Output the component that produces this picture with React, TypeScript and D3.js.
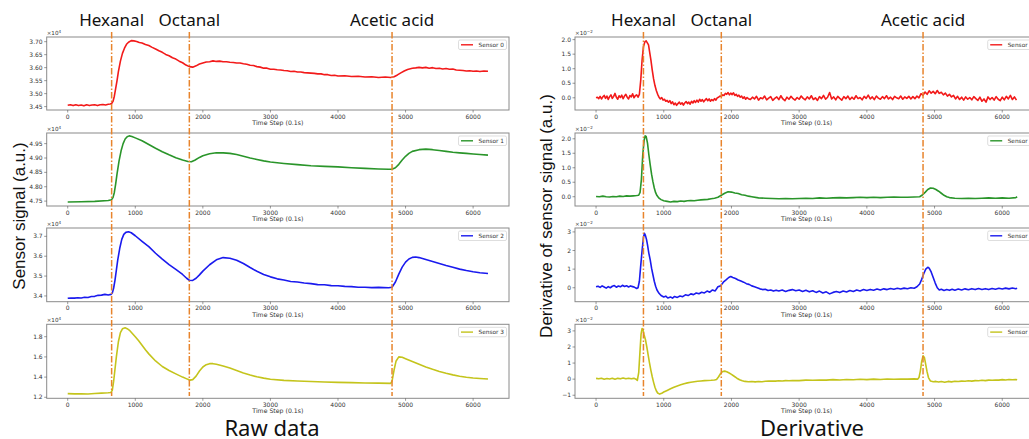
import React from "react";
import * as d3 from "d3";

// ---------- DATA ----------
const xTicks = [0, 1000, 2000, 3000, 4000, 5000, 6000];
const eventNames = ["Hexanal", "Octanal", "Acetic acid"];
const rawEventTimes = [650, 1800, 4800];
const derivEventTimes = [700, 1850, 4830];
const sensorNames = ["Sensor 0", "Sensor 1", "Sensor 2", "Sensor 3"];

// raw sensor signal (x10^4)
const raw0: [number, number][] = [[0,3.455],[40,3.457],[80,3.454],[120,3.457],[160,3.454],[200,3.456],[240,3.453],[280,3.457],[320,3.454],[360,3.456],[400,3.457],[440,3.454],[480,3.457],[520,3.458],[560,3.456],[600,3.459],[630,3.46],[650,3.462],[670,3.47],[690,3.49],[710,3.52],[730,3.55],[750,3.585],[780,3.625],[810,3.655],[840,3.675],[870,3.69],[900,3.698],[940,3.704],[980,3.703],[1020,3.701],[1060,3.697],[1100,3.695],[1150,3.689],[1200,3.685],[1250,3.678],[1300,3.672],[1350,3.665],[1400,3.659],[1450,3.651],[1500,3.646],[1550,3.638],[1600,3.633],[1650,3.625],[1700,3.619],[1750,3.61],[1800,3.604],[1850,3.602],[1900,3.607],[1950,3.614],[2000,3.618],[2050,3.622],[2100,3.623],[2150,3.626],[2200,3.624],[2250,3.625],[2300,3.623],[2350,3.623],[2400,3.621],[2450,3.62],[2500,3.618],[2550,3.618],[2600,3.615],[2650,3.613],[2700,3.609],[2750,3.608],[2800,3.604],[2850,3.602],[2900,3.598],[2950,3.598],[3000,3.594],[3050,3.594],[3100,3.592],[3150,3.591],[3200,3.589],[3250,3.588],[3300,3.585],[3350,3.586],[3400,3.583],[3450,3.583],[3500,3.581],[3550,3.58],[3600,3.579],[3650,3.578],[3700,3.576],[3750,3.576],[3800,3.573],[3850,3.573],[3900,3.57],[3950,3.571],[4000,3.568],[4100,3.569],[4200,3.566],[4300,3.567],[4400,3.564],[4500,3.565],[4600,3.562],[4700,3.564],[4780,3.562],[4830,3.565],[4880,3.572],[4930,3.58],[4980,3.587],[5030,3.593],[5100,3.598],[5150,3.599],[5200,3.601],[5250,3.599],[5300,3.601],[5350,3.598],[5400,3.6],[5450,3.597],[5500,3.598],[5550,3.595],[5600,3.597],[5650,3.594],[5700,3.595],[5750,3.591],[5800,3.59],[5850,3.589],[5900,3.587],[5950,3.588],[6000,3.586],[6050,3.587],[6100,3.585],[6160,3.587],[6220,3.586]];
const raw1: [number, number][] = [[0,4.747],[200,4.748],[400,4.749],[600,4.752],[650,4.755],[670,4.762],[690,4.78],[710,4.81],[730,4.845],[760,4.89],[790,4.925],[820,4.95],[850,4.966],[880,4.974],[910,4.977],[950,4.975],[1000,4.97],[1100,4.96],[1200,4.947],[1300,4.934],[1400,4.922],[1500,4.911],[1600,4.901],[1700,4.893],[1780,4.888],[1830,4.887],[1880,4.892],[1950,4.902],[2000,4.908],[2100,4.915],[2200,4.918],[2300,4.918],[2400,4.916],[2500,4.912],[2600,4.906],[2700,4.9],[2800,4.895],[2900,4.89],[3000,4.886],[3200,4.881],[3400,4.877],[3600,4.873],[3800,4.871],[4000,4.869],[4200,4.866],[4400,4.864],[4600,4.862],[4750,4.861],[4800,4.861],[4850,4.866],[4900,4.878],[4950,4.893],[5000,4.906],[5050,4.916],[5100,4.923],[5200,4.929],[5300,4.931],[5400,4.929],[5500,4.926],[5600,4.923],[5700,4.92],[5800,4.918],[5900,4.916],[6000,4.914],[6100,4.912],[6220,4.91]];
const raw2: [number, number][] = [[0,3.388],[50,3.39],[100,3.389],[150,3.391],[200,3.39],[250,3.393],[300,3.392],[350,3.397],[400,3.398],[450,3.403],[500,3.404],[550,3.408],[600,3.405],[640,3.408],[660,3.415],[680,3.44],[700,3.48],[720,3.53],[740,3.58],[770,3.64],[800,3.685],[830,3.71],[860,3.72],[900,3.723],[940,3.718],[1000,3.703],[1100,3.675],[1200,3.648],[1300,3.615],[1400,3.585],[1500,3.558],[1600,3.534],[1700,3.508],[1760,3.489],[1800,3.479],[1850,3.478],[1900,3.489],[1950,3.506],[2000,3.525],[2100,3.557],[2200,3.582],[2300,3.593],[2400,3.59],[2500,3.58],[2600,3.563],[2700,3.543],[2800,3.524],[2900,3.508],[3000,3.496],[3100,3.486],[3200,3.48],[3300,3.473],[3400,3.47],[3500,3.465],[3600,3.462],[3700,3.457],[3800,3.456],[3900,3.452],[4000,3.451],[4100,3.448],[4200,3.447],[4300,3.444],[4400,3.444],[4500,3.442],[4600,3.443],[4750,3.441],[4800,3.444],[4850,3.47],[4900,3.51],[4950,3.545],[5000,3.57],[5050,3.586],[5100,3.594],[5150,3.596],[5200,3.593],[5300,3.583],[5400,3.573],[5500,3.563],[5600,3.553],[5700,3.544],[5800,3.535],[5900,3.528],[6000,3.522],[6100,3.517],[6220,3.513]];
const raw3: [number, number][] = [[0,1.236],[100,1.234],[200,1.235],[300,1.233],[400,1.237],[500,1.241],[600,1.245],[640,1.248],[660,1.27],[680,1.36],[700,1.48],[720,1.6],[750,1.75],[780,1.84],[810,1.878],[850,1.888],[880,1.88],[920,1.86],[960,1.83],[1000,1.8],[1050,1.76],[1100,1.715],[1150,1.67],[1200,1.63],[1300,1.56],[1400,1.505],[1500,1.465],[1600,1.432],[1700,1.4],[1770,1.38],[1810,1.37],[1850,1.375],[1900,1.41],[1950,1.46],[2000,1.5],[2050,1.523],[2100,1.533],[2150,1.533],[2200,1.527],[2300,1.51],[2400,1.49],[2500,1.465],[2600,1.44],[2700,1.42],[2800,1.403],[2900,1.39],[3000,1.379],[3200,1.368],[3400,1.361],[3600,1.356],[3800,1.352],[4000,1.348],[4200,1.345],[4400,1.342],[4600,1.34],[4780,1.338],[4800,1.36],[4830,1.47],[4860,1.56],[4900,1.6],[4950,1.596],[5000,1.582],[5100,1.555],[5200,1.527],[5300,1.5],[5400,1.477],[5500,1.456],[5600,1.438],[5700,1.422],[5800,1.408],[5900,1.398],[6000,1.391],[6100,1.386],[6220,1.381]];

// derivative of sensor signal (x10^-2)
const deriv0Head: [number, number][] = [[0,0.0],[20,0.02],[40,-0.03],[60,0.05],[80,-0.04],[100,0.03],[120,0.08],[140,-0.02],[160,0.06],[180,-0.06],[200,0.04],[220,0.1],[240,-0.02],[260,0.05],[280,0.15],[300,0.02],[320,-0.05],[340,0.07],[360,0.01],[380,0.09],[400,-0.03],[420,0.06],[440,0.12],[460,0.02],[480,-0.04],[500,0.08],[520,0.03],[540,0.14],[560,0.0],[580,0.07],[600,0.1],[620,0.02],[640,0.12],[660,0.6],[680,1.3],[700,1.75],[720,1.92],[740,1.96],[760,1.88],[775,1.82],[790,1.6],[810,1.3],[830,0.95],[850,0.65],[870,0.42],[890,0.25],[910,0.12],[930,0.02],[950,-0.04],[970,0.01],[990,-0.08],[1010,-0.05],[1030,-0.12],[1050,-0.09],[1070,-0.15],[1090,-0.1],[1110,-0.2],[1130,-0.14],[1150,-0.24],[1170,-0.18],[1190,-0.26],[1210,-0.2],[1230,-0.15],[1250,-0.22],[1270,-0.17],[1290,-0.25],[1310,-0.18],[1330,-0.13],[1350,-0.2],[1370,-0.15],[1390,-0.22],[1410,-0.12],[1430,-0.18],[1450,-0.1],[1470,-0.16],[1490,-0.08],[1510,-0.15],[1530,-0.05],[1550,-0.12],[1570,-0.06],[1590,-0.14],[1610,-0.08],[1630,-0.03],[1650,-0.1],[1670,-0.04],[1690,-0.12],[1710,-0.06],[1730,-0.1],[1750,-0.03],[1770,-0.08],[1790,0.0],[1810,0.02],[1830,0.06],[1850,0.04],[1870,0.1],[1890,0.08],[1910,0.15],[1930,0.12],[1950,0.18],[1970,0.1],[1990,0.16],[2010,0.11],[2030,0.17],[2050,0.08],[2070,0.12],[2090,0.05],[2110,0.09],[2130,0.02],[2150,0.06],[2170,-0.02],[2190,0.03],[2210,-0.05],[2230,0.01],[2250,-0.03]];
const deriv0TailStart = 2280;
const deriv0TailStep = 30;
const deriv0TailValues = [-0.06,0.02,-0.04,0.05,-0.08,0.0,-0.03,0.06,-0.07,-0.01,0.04,-0.09,-0.02,0.03,-0.06,0.07,-0.04,-0.1,0.02,-0.05,0.05,-0.03,-0.08,0.01,-0.05,0.06,-0.02,-0.07,0.03,-0.04,0.07,-0.06,0.0,-0.09,0.04,-0.03,0.08,-0.05,0.02,0.18,-0.04,0.03,-0.07,0.05,-0.02,-0.08,0.04,-0.03,0.06,-0.06,0.02,-0.05,0.07,-0.03,0.01,-0.07,0.05,-0.02,0.09,-0.04,0.03,-0.06,0.06,-0.01,-0.05,0.04,-0.03,0.07,-0.04,0.02,-0.06,0.05,0.0,-0.03,0.06,-0.05,0.03,-0.02,0.05,-0.04,0.04,-0.03,0.06,0.0,0.14,0.08,0.2,0.12,0.24,0.16,0.22,0.14,0.25,0.15,0.19,0.1,0.16,0.06,0.12,0.03,0.08,-0.04,0.05,-0.06,0.02,-0.08,0.03,-0.05,0.01,-0.07,0.04,-0.03,-0.09,0.02,-0.12,-0.04,-0.15,0.03,-0.06,0.01,-0.08,0.04,-0.05,-0.1,0.02,-0.07,0.05,-0.04,0.08,-0.06,0.03,-0.08];
const deriv1: [number, number][] = [[0,0.01],[50,0.0],[100,0.02],[150,0.0],[200,-0.01],[250,0.01],[300,0.0],[350,0.02],[400,0.01],[450,0.03],[500,0.02],[550,0.03],[600,0.04],[630,0.05],[650,0.15],[670,0.6],[690,1.45],[710,1.95],[725,2.1],[740,2.08],[760,1.85],[780,1.45],[800,1.1],[820,0.78],[840,0.52],[860,0.3],[880,0.14],[900,0.04],[930,-0.05],[960,-0.1],[1000,-0.14],[1050,-0.16],[1100,-0.18],[1150,-0.16],[1200,-0.17],[1250,-0.15],[1300,-0.16],[1350,-0.14],[1400,-0.13],[1450,-0.14],[1500,-0.12],[1550,-0.11],[1600,-0.1],[1650,-0.09],[1700,-0.07],[1750,-0.05],[1800,-0.02],[1850,0.05],[1900,0.12],[1950,0.17],[2000,0.16],[2050,0.13],[2100,0.11],[2150,0.07],[2200,0.05],[2250,0.02],[2300,0.0],[2400,-0.04],[2500,-0.05],[2600,-0.06],[2700,-0.07],[2800,-0.06],[2900,-0.07],[3000,-0.06],[3100,-0.05],[3200,-0.06],[3300,-0.04],[3400,-0.05],[3500,-0.04],[3600,-0.03],[3700,-0.04],[3800,-0.03],[3900,-0.02],[4000,-0.03],[4100,-0.02],[4200,-0.03],[4300,-0.02],[4400,-0.01],[4500,-0.02],[4600,-0.02],[4700,-0.01],[4780,0.0],[4820,0.06],[4860,0.15],[4900,0.25],[4940,0.3],[4980,0.29],[5020,0.25],[5060,0.19],[5100,0.12],[5140,0.05],[5180,0.0],[5220,-0.03],[5300,-0.05],[5400,-0.06],[5500,-0.05],[5600,-0.06],[5700,-0.05],[5800,-0.04],[5900,-0.05],[6000,-0.04],[6100,-0.05],[6200,-0.03],[6220,0.0]];
const deriv2: [number, number][] = [[0,0.05],[30,0.08],[60,0.02],[90,0.1],[120,0.04],[150,-0.02],[180,0.06],[210,0.0],[240,0.08],[270,0.12],[300,0.03],[330,0.09],[360,0.05],[390,0.13],[420,0.07],[450,0.11],[480,0.04],[510,0.1],[540,0.06],[570,0.02],[600,-0.04],[620,0.0],[640,0.35],[660,1.2],[680,2.0],[700,2.7],[715,2.92],[730,2.8],[745,2.6],[760,2.3],[780,1.85],[800,1.5],[820,1.05],[840,0.7],[860,0.35],[880,0.08],[900,-0.12],[930,-0.3],[960,-0.42],[1000,-0.5],[1030,-0.45],[1060,-0.55],[1100,-0.5],[1130,-0.56],[1160,-0.47],[1200,-0.52],[1240,-0.44],[1280,-0.48],[1320,-0.38],[1360,-0.42],[1400,-0.33],[1440,-0.37],[1480,-0.28],[1520,-0.32],[1560,-0.24],[1600,-0.28],[1640,-0.18],[1680,-0.24],[1720,-0.12],[1760,-0.17],[1800,0.05],[1840,0.1],[1880,0.3],[1920,0.42],[1960,0.55],[1990,0.6],[2020,0.55],[2060,0.5],[2100,0.42],[2140,0.36],[2180,0.3],[2220,0.22],[2260,0.18],[2300,0.1],[2340,0.05],[2380,0.0],[2420,-0.06],[2460,-0.1],[2500,-0.08],[2540,-0.15],[2580,-0.12],[2620,-0.18],[2660,-0.13],[2700,-0.17],[2750,-0.12],[2800,-0.2],[2850,-0.14],[2900,-0.1],[2950,-0.16],[3000,-0.12],[3050,-0.2],[3100,-0.14],[3150,-0.22],[3200,-0.16],[3250,-0.25],[3300,-0.18],[3350,-0.28],[3400,-0.22],[3450,-0.33],[3500,-0.25],[3550,-0.2],[3600,-0.26],[3650,-0.18],[3700,-0.23],[3750,-0.15],[3800,-0.2],[3850,-0.12],[3900,-0.17],[3950,-0.1],[4000,-0.15],[4050,-0.09],[4100,-0.13],[4150,-0.07],[4200,-0.12],[4250,-0.06],[4300,-0.1],[4350,-0.04],[4400,-0.08],[4450,-0.03],[4500,-0.07],[4550,-0.02],[4600,-0.05],[4650,0.0],[4700,-0.03],[4740,0.05],[4780,0.2],[4810,0.45],[4840,0.75],[4870,1.0],[4900,1.1],[4920,1.05],[4950,0.85],[4980,0.55],[5010,0.25],[5040,0.0],[5070,-0.12],[5100,-0.08],[5140,-0.15],[5180,-0.1],[5220,-0.14],[5260,-0.08],[5300,-0.13],[5350,-0.07],[5400,-0.12],[5450,-0.06],[5500,-0.11],[5550,-0.05],[5600,-0.1],[5650,-0.04],[5700,-0.09],[5750,-0.05],[5800,-0.1],[5850,-0.04],[5900,-0.08],[5950,-0.03],[6000,-0.07],[6050,-0.02],[6100,-0.06],[6150,-0.01],[6200,-0.05],[6220,-0.03]];
const deriv3: [number, number][] = [[0,0.05],[40,0.02],[80,0.06],[120,0.0],[160,0.04],[200,0.01],[240,0.06],[280,-0.01],[320,0.05],[360,0.02],[400,0.07],[440,0.03],[480,0.06],[520,0.02],[560,0.05],[590,0.0],[610,-0.08],[630,0.4],[650,1.8],[665,2.8],[680,3.15],[695,3.05],[710,2.75],[730,2.45],[750,2.0],[770,1.5],[790,1.0],[810,0.55],[830,0.15],[850,-0.2],[870,-0.5],[890,-0.72],[910,-0.86],[940,-0.93],[970,-0.88],[1000,-0.8],[1050,-0.7],[1100,-0.6],[1150,-0.5],[1200,-0.42],[1250,-0.35],[1300,-0.28],[1350,-0.23],[1400,-0.19],[1450,-0.16],[1500,-0.13],[1550,-0.11],[1600,-0.09],[1650,-0.08],[1700,-0.07],[1750,-0.05],[1780,-0.02],[1810,0.15],[1840,0.35],[1870,0.48],[1900,0.5],[1930,0.46],[1960,0.4],[2000,0.3],[2040,0.18],[2080,0.06],[2120,-0.04],[2160,-0.1],[2200,-0.14],[2250,-0.16],[2300,-0.15],[2350,-0.17],[2400,-0.15],[2450,-0.16],[2500,-0.13],[2550,-0.12],[2600,-0.11],[2650,-0.12],[2700,-0.1],[2750,-0.11],[2800,-0.09],[2850,-0.1],[2900,-0.08],[3000,-0.09],[3100,-0.06],[3200,-0.07],[3300,-0.05],[3400,-0.06],[3500,-0.03],[3600,-0.05],[3700,-0.02],[3800,-0.04],[3900,-0.01],[4000,-0.03],[4100,0.0],[4200,-0.02],[4300,0.01],[4400,-0.01],[4500,0.01],[4600,0.0],[4700,0.02],[4750,0.0],[4770,0.1],[4790,0.5],[4810,1.1],[4830,1.45],[4850,1.35],[4870,0.9],[4890,0.45],[4910,0.1],[4940,-0.12],[4980,-0.16],[5020,-0.14],[5060,-0.18],[5100,-0.15],[5150,-0.19],[5200,-0.14],[5250,-0.17],[5300,-0.13],[5350,-0.15],[5400,-0.12],[5450,-0.13],[5500,-0.1],[5550,-0.12],[5600,-0.09],[5650,-0.1],[5700,-0.07],[5750,-0.09],[5800,-0.06],[5850,-0.07],[5900,-0.05],[5950,-0.06],[6000,-0.03],[6050,-0.05],[6100,-0.02],[6150,-0.04],[6200,-0.02],[6220,-0.04]];

const rawYTicks = [
  [3.45, 3.5, 3.55, 3.6, 3.65, 3.7],
  [4.75, 4.8, 4.85, 4.9, 4.95],
  [3.4, 3.5, 3.6, 3.7],
  [1.2, 1.4, 1.6, 1.8],
];
const rawYDecimals = [2, 2, 1, 1];
const rawYDomains: [number, number][] = [[3.437, 3.718], [4.733, 4.987], [3.371, 3.742], [1.19, 1.923]];
const derivYTicks = [
  [0, 0.5, 1, 1.5, 2],
  [0, 0.5, 1, 1.5, 2],
  [0, 1, 2, 3],
  [-1, 0, 1, 2, 3],
];
const derivYDecimals = [1, 1, 0, 0];
const derivYDomains: [number, number][] = [[-0.42, 2.09], [-0.32, 2.2], [-0.75, 3.21], [-1.19, 3.41]];

// ---------- STYLE / LAYOUT ----------
const W = 1029, H = 439;
const colors = ["#f21a1a", "#2a952a", "#1a1aee", "#c4c41c"];
const eventColor = "#e8842c";
const tickFont = "DejaVu Sans, sans-serif";
const xDomain: [number, number] = [-311, 6531];
const rowTops = [37, 133, 228, 324.3];
const rowBottoms = [110, 206, 301.7, 398.3];

const deriv0: [number, number][] = deriv0Head.concat(
  deriv0TailValues.map((v, i) => [deriv0TailStart + i * deriv0TailStep, v] as [number, number])
);
const rawSeries = [raw0, raw1, raw2, raw3];
const derivSeries = [deriv0, deriv1, deriv2, deriv3];

function fmtNum(v: number, dec: number) {
  const s = v.toFixed(dec);
  return v < 0 ? "\u2212" + s.slice(1) : s;
}

function Subplot(props: {
  x0: number; x1: number; top: number; bottom: number;
  data: [number, number][]; yDomain: [number, number]; yTicks: number[]; dec: number;
  color: string; label: string; expo: string;
}) {
  const { x0, x1, top, bottom, data, yDomain, yTicks, dec, color, label, expo } = props;
  const x = d3.scaleLinear().domain(xDomain).range([x0, x1]);
  const y = d3.scaleLinear().domain(yDomain).range([bottom, top]);
  const line = d3.line<[number, number]>().x((d) => x(d[0])).y((d) => y(d[1]));
  const lgX = x1 - 50.5, lgY = top + 3;
  return (
    <g>
      <path d={line(data) || ""} fill="none" stroke={color} strokeWidth={1.6} strokeLinejoin="round" />
      <rect x={x0} y={top} width={x1 - x0} height={bottom - top} fill="none" stroke="#8a8a8a" strokeWidth={1} />
      {xTicks.map((t) => (
        <g key={t}>
          <line x1={x(t)} x2={x(t)} y1={bottom} y2={bottom + 2.5} stroke="#555" strokeWidth={0.6} />
          <text x={x(t)} y={bottom + 8.6} fontSize={6} fontFamily={tickFont} fill="#333" textAnchor="middle">{t}</text>
        </g>
      ))}
      {yTicks.map((t) => (
        <g key={t}>
          <line x1={x0 - 2.5} x2={x0} y1={y(t)} y2={y(t)} stroke="#555" strokeWidth={0.6} />
          <text x={x0 - 4} y={y(t) + 2.1} fontSize={6} fontFamily={tickFont} fill="#333" textAnchor="end">{fmtNum(t, dec)}</text>
        </g>
      ))}
      <text x={x0} y={top - 2} fontSize={5.6} fontFamily={tickFont} fill="#333">
        {"\u00d710"}<tspan fontSize={4} dy={-2.2}>{expo}</tspan>
      </text>
      <text x={(x0 + x1) / 2} y={bottom + 14.8} fontSize={6.2} fontFamily={tickFont} fill="#333" textAnchor="middle">Time Step (0.1s)</text>
      <rect x={lgX} y={lgY} width={48} height={9.5} rx={1.5} fill="#fff" stroke="#d0d0d0" strokeWidth={0.7} />
      <line x1={lgX + 2.5} x2={lgX + 14.5} y1={lgY + 4.8} y2={lgY + 4.8} stroke={color} strokeWidth={1.4} />
      <text x={lgX + 20} y={lgY + 6.9} fontSize={5.8} fontFamily={tickFont} fill="#333">{label}</text>
    </g>
  );
}

function Panel(props: { x0: number; x1: number; series: [number, number][][]; domains: [number, number][];
  ticks: number[][]; decs: number[]; expo: string; events: number[]; }) {
  const { x0, x1, series, domains, ticks, decs, expo, events } = props;
  const x = d3.scaleLinear().domain(xDomain).range([x0, x1]);
  return (
    <g>
      {series.map((s, i) => (
        <Subplot key={i} x0={x0} x1={x1} top={rowTops[i]} bottom={rowBottoms[i]} data={s}
          yDomain={domains[i]} yTicks={ticks[i]} dec={decs[i]} color={colors[i]} label={sensorNames[i]} expo={expo} />
      ))}
      {events.map((t, i) => (
        <g key={i}>
          <line x1={x(t)} x2={x(t)} y1={32} y2={396} stroke={eventColor} strokeWidth={1.5} strokeDasharray="6.5,2,1.5,2" />
          <text x={x(t)} y={26} fontSize={17} fontFamily="Noto Sans, Open Sans, sans-serif" fill="#111" textAnchor="middle">{eventNames[i]}</text>
        </g>
      ))}
    </g>
  );
}

export default function App() {
  return (
    <svg width={W} height={H} style={{ position: "absolute", left: 0, top: 0, background: "#fff" }}>
      <rect x={0} y={0} width={W} height={H} fill="#fff" />
      <Panel x0={46.7} x1={509} series={rawSeries} domains={rawYDomains} ticks={rawYTicks} decs={rawYDecimals} expo="4" events={rawEventTimes} />
      <Panel x0={575} x1={1038.2} series={derivSeries} domains={derivYDomains} ticks={derivYTicks} decs={derivYDecimals} expo={"\u22122"} events={derivEventTimes} />
      <text transform="translate(25,216) rotate(-90)" fontSize={17} fontFamily="Liberation Sans, Arial, sans-serif" fill="#111" textAnchor="middle">Sensor signal (a.u.)</text>
      <text transform="translate(552,216) rotate(-90)" fontSize={17} fontFamily="Liberation Sans, Arial, sans-serif" fill="#111" textAnchor="middle">Derivative of sensor signal (a.u.)</text>
      <text x={272} y={436} fontSize={22} fontFamily="Noto Sans, Open Sans, sans-serif" fill="#111" textAnchor="middle">Raw data</text>
      <text x={812} y={436} fontSize={22} fontFamily="Noto Sans, Open Sans, sans-serif" fill="#111" textAnchor="middle">Derivative</text>
    </svg>
  );
}
